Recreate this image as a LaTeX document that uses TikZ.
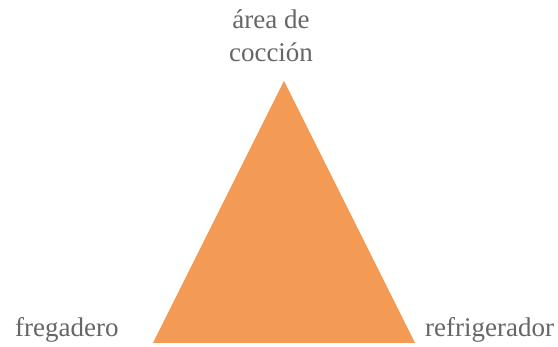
\documentclass[tikz,border=0pt]{standalone}
\usepackage{fontspec}
\setmainfont{Liberation Serif}
\usepackage{xcolor}
\definecolor{zona}{HTML}{F39A55}
\definecolor{rotulo}{HTML}{666666}

\begin{document}
\begin{tikzpicture}[x=1pt,y=1pt,
    rotulo/.style={inner sep=0pt,text=rotulo,font=\fontsize{27}{33}\selectfont}]
    \useasboundingbox (0,0) rectangle (558,347);
    % vertices of the work triangle
    \coordinate (coccion) at (284,266);
    \coordinate (fregadero) at (153,4);
    \coordinate (refri) at (415,4);
    \fill[zona] (coccion) -- (fregadero) -- (refri) -- cycle;
    % labels
    \node[rotulo,anchor=base,align=center] (lcoccion) at (271,285) {área de\\cocción};
    \node[rotulo,anchor=base west] (lfregadero) at (15,10) {fregadero};
    \node[rotulo,anchor=base west] (lrefri) at (425,10) {refrigerador};
\end{tikzpicture}
\end{document}
